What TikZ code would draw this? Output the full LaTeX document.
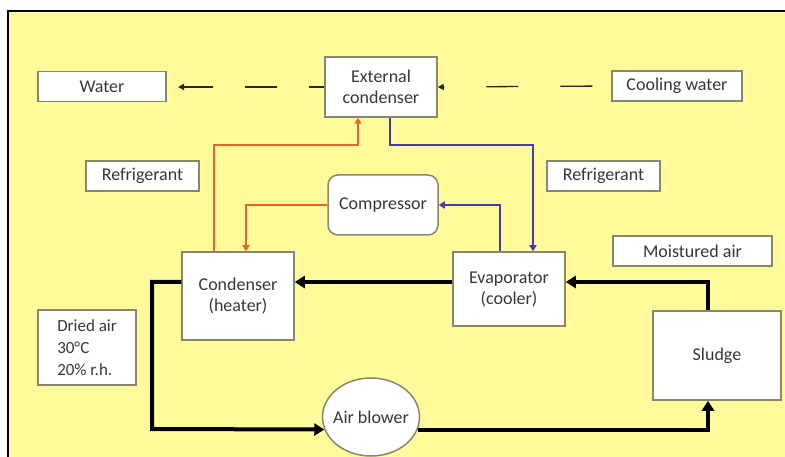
\documentclass[tikz,border=0pt]{standalone}
\usepackage{fontspec}
\setmainfont{Carlito}
\usetikzlibrary{arrows.meta,shapes.geometric}
\definecolor{bgyellow}{RGB}{255,251,155}
\definecolor{boxedge}{RGB}{135,135,110}
\definecolor{refred}{RGB}{232,100,40}
\definecolor{refblue}{RGB}{70,60,175}
\definecolor{txt}{RGB}{55,55,55}
\tikzset{
  x=1pt, y=-1pt,
  box/.style={draw=boxedge, line width=1.5pt, fill=white, inner sep=2pt, align=center,
    font=\fontsize{18}{21}\selectfont, text=txt},
  hot/.style={draw=refred, line width=2.5pt, -{Triangle[length=6pt,width=7pt]}},
  cold/.style={draw=refblue, line width=2.5pt, -{Triangle[length=6pt,width=7pt]}},
  air/.style={draw=black, line width=4pt, -{Triangle[length=10pt,width=12pt]}},
  water/.style={draw=black!85, line width=1.3pt, -{Triangle[length=6pt,width=6pt]}}
}
\begin{document}
\begin{tikzpicture}
\useasboundingbox (0,0) rectangle (785,457);
\fill[white] (0,0) rectangle (785,457);
\fill[bgyellow] (8,11) rectangle (785,457);
\draw[line width=2pt] (8,457) -- (8,11) -- (785,11);

% nodes
\node[box, minimum width=128pt, minimum height=30pt] (Water) at (102,86.5) {Water};
\node[box, minimum width=112pt, minimum height=60pt] (ExtCond) at (381,87) {External\\condenser};
\node[box, minimum width=130pt, minimum height=30pt] (Cooling) at (677,86) {Cooling water};
\node[box, minimum width=113pt, minimum height=30pt] (RefL) at (142.5,176) {Refrigerant};
\node[box, minimum width=113pt, minimum height=30pt] (RefR) at (603.5,176) {Refrigerant};
\node[box, rounded corners=10pt, minimum width=110pt, minimum height=60pt] (Compressor) at (383,205) {Compressor};
\node[box, minimum width=112pt, minimum height=88pt] (Condenser) at (238,296) {Condenser\\(heater)};
\node[box, minimum width=112pt, minimum height=74pt] (Evaporator) at (509,289) {Evaporator\\(cooler)};
\node[box, minimum width=159pt, minimum height=30pt] (Moist) at (692.5,251) {Moistured air};
\node[box, minimum width=128pt, minimum height=89pt] (Sludge) at (717,355.5) {Sludge};
\node[box, minimum width=98pt, minimum height=75pt, align=left,
      font=\fontsize{17}{22}\selectfont] (Dried) at (87,347.5) {Dried air\\30°C\\20\% r.h.};
\node[box, ellipse, inner xsep=-5pt, inner ysep=0pt, minimum width=97pt, minimum height=78pt] (Blower) at (371,417) {Air blower};

% bend / free-end coordinates
\coordinate (o1) at (358,145);
\coordinate (b1) at (533,145);
\coordinate (wEnd) at (178,87);
\coordinate (k1) at (152,429);

% cooling water (dashed)
\draw[water, dash pattern=on 32pt off 42pt, dash phase=55pt] (Cooling.west) -- (ExtCond.east);
\draw[water, dash pattern=on 32pt off 32pt, dash phase=17pt] (ExtCond.west) -- (wEnd);

% refrigerant loops
\draw[hot] ([xshift=-24pt]Condenser.north) |- (o1) -- ([xshift=-23pt]ExtCond.south);
\draw[hot] (Compressor.west) -| ([xshift=8pt]Condenser.north);
\draw[cold] ([xshift=9pt]ExtCond.south) |- (b1) -- ([xshift=24pt]Evaporator.north);
\draw[cold] ([xshift=-9pt]Evaporator.north) |- (Compressor.east);

% air loop
\draw[air] ([xshift=-9pt]Sludge.north) |- ([yshift=7pt]Evaporator.east);
\draw[air] ([yshift=7pt]Evaporator.west) -- ([yshift=14pt]Condenser.east);
\draw[air] ([yshift=14pt]Condenser.west) -| (k1) -- (Blower.195);
\draw[air] (Blower.-15) -| ([xshift=-9pt]Sludge.south);
\end{tikzpicture}
\end{document}
